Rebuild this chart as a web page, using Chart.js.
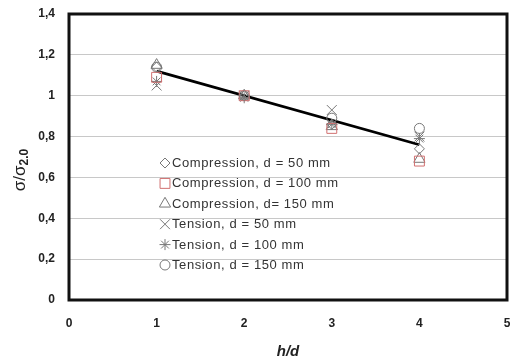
<!DOCTYPE html>
<html><head><meta charset="utf-8">
<script src="https://cdn.jsdelivr.net/npm/chart.js@4/dist/chart.umd.min.js"></script>
<style>html,body{margin:0;padding:0;background:#fff}#wrap{width:510px;height:363px}</style>
</head><body><div id="wrap"><canvas id="c" width="510" height="363"></canvas></div>
<script>
const hd = [1, 2, 3, 4];
const compression50 = [1.14, 1.00, 0.86, 0.74];
const compression100 = [1.09, 1.00, 0.84, 0.68];
const compression150 = [1.15, 1.00, 0.85, 0.69];
const tension50 = [1.05, 1.00, 0.93, 0.80];
const tension100 = [1.07, 0.99, 0.86, 0.79];
const tension150 = [1.14, 1.00, 0.89, 0.84];
const trendX = [1, 4];
const trendY = [1.12, 0.76];
const seriesLabels = ['Compression, d = 50 mm','Compression, d = 100 mm','Compression, d= 150 mm','Tension, d = 50 mm','Tension, d = 100 mm','Tension, d = 150 mm'];
const yTicks = [0, 0.2, 0.4, 0.6, 0.8, 1, 1.2, 1.4];

const seriesValues = [compression50, compression100, compression150, tension50, tension100, tension150];
const styles = ['rectRot','rect','triangle','crossRot','star','circle'];
const colors = ['#777','#d07070','#777','#777','#777','#777'];
const radii = [5,7,6.5,7,5.5,5];

const datasets = seriesValues.map((vals,i)=>({
  type:'scatter', label: seriesLabels[i],
  data: hd.map((x,j)=>({x:x,y:vals[j]})),
  pointStyle: styles[i], pointRadius: radii[i], pointBorderColor: colors[i],
  pointBackgroundColor: 'rgba(0,0,0,0)', pointBorderWidth: 1, showLine:false
}));
datasets.push({type:'line', label:'trend', data: trendX.map((x,j)=>({x:x,y:trendY[j]})),
  borderColor:'#000', borderWidth:2.8, pointRadius:0, fill:false});

const FONT = '"Liberation Sans", Arial, sans-serif';

const boxPlugin = {
  id:'box',
  afterDatasetsDraw(chart){
    const {ctx, chartArea:a} = chart;
    ctx.save();
    ctx.strokeStyle = '#111'; ctx.lineWidth = 3;
    ctx.strokeRect(a.left, a.top, a.right-a.left, a.bottom-a.top);
    ctx.restore();
  },
  afterDraw(chart){
    const ctx = chart.ctx;
    ctx.save();
    const lx = 165, ly0 = 163, dy = 20.4;
    seriesLabels.forEach((lab,i)=>{
      const y = ly0 + i*dy;
      ctx.strokeStyle = colors[i]; ctx.fillStyle='rgba(0,0,0,0)'; ctx.lineWidth = 1;
      Chart.helpers.drawPoint(ctx, {pointStyle: styles[i], radius: radii[i], rotation:0, borderWidth:1}, lx, y);
      ctx.fillStyle = '#333'; ctx.font = '13px ' + FONT; ctx.textBaseline='middle'; ctx.textAlign='left';
      ctx.letterSpacing = '0.6px';
      ctx.fillText(lab, lx + 7, y + 0.5);
      ctx.letterSpacing = '0px';
    });
    ctx.translate(20, 170); ctx.rotate(-Math.PI/2);
    ctx.fillStyle = '#222'; ctx.textBaseline='middle';
    const main = 'σ/σ';
    const sub = '2.0';
    ctx.font = '17px ' + FONT; const w1 = ctx.measureText(main).width;
    ctx.font = 'bold 12px ' + FONT; const w2 = ctx.measureText(sub).width;
    const x0 = -(w1+w2)/2;
    ctx.font = '17px ' + FONT; ctx.textAlign='left';
    ctx.fillText(main, x0, 0);
    ctx.font = 'bold 12px ' + FONT;
    ctx.fillText(sub, x0 + w1, 5);
    ctx.restore();
  }
};

new Chart(document.getElementById('c'), {
  data: {datasets},
  options: {
    responsive:false, animation:false, devicePixelRatio:1,
    layout:{autoPadding:false, padding:{top:14, right:3, left:0, bottom:0}},
    plugins:{legend:{display:false}, tooltip:{enabled:false}},
    scales:{
      x:{type:'linear', min:0, max:5,
        ticks:{stepSize:1, padding:16, color:'#222', font:{family:FONT, size:12, weight:'bold'}},
        grid:{display:false, drawTicks:false}, border:{display:false},
        title:{display:true, text:'h/d', color:'#222', padding:{top:4,bottom:2}, font:{family:FONT, size:15, weight:'bold', style:'italic'}},
        afterFit(s){ s.height = 63; s.paddingRight = 0; s.paddingLeft = 0; }
      },
      y:{type:'linear', min:0, max:1.4,
        afterBuildTicks(s){ s.ticks = yTicks.map(v=>({value:v})); },
        ticks:{padding:14, color:'#222', font:{family:FONT, size:12, weight:'bold'},
          callback:v=>String(Math.round(v*10)/10).replace('.',',')},
        grid:{color:'#c8c8c8', lineWidth:1, drawTicks:false}, border:{display:false},
        afterFit(s){ s.width = 69; s.paddingTop = 0; s.paddingBottom = 0; }
      }
    }
  },
  plugins:[boxPlugin]
});
</script></body></html>
